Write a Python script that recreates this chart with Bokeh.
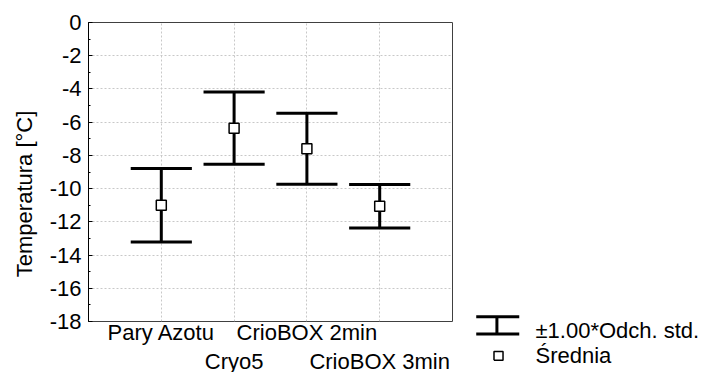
import math
from bokeh.plotting import figure
from bokeh.models import (Range1d, LinearAxis, SingleIntervalTicker, FixedTicker,
                          ColumnDataSource, Grid)
from bokeh.core.properties import value
from bokeh.embed import file_html
from bokeh.resources import INLINE

# ---- data ----
categories = ["Pary Azotu", "Cryo5", "CrioBOX 2min", "CrioBOX 3min"]
means = [-11.0, -6.36, -7.6, -11.06]
sds = [2.21, 2.18, 2.14, 1.31]
label_rows = [0, 1, 0, 1]
y_ticks = [-18, -16, -14, -12, -10, -8, -6, -4, -2, 0]
legend_labels = ["\u00b11.00*Odch. std.", "\u015arednia"]
y_title = "Temperatura [\u00b0C]"

FONT = "Liberation Sans"
FS = "22px"

xs = [i + 1 for i in range(len(categories))]
upper = [m + s for m, s in zip(means, sds)]
lower = [m - s for m, s in zip(means, sds)]
cap = 0.42

src = ColumnDataSource(dict(
    x=xs, mean=means, up=upper, lo=lower,
    x0=[x - cap for x in xs], x1=[x + cap for x in xs],
))

p = figure(width=701, height=372, output_backend="svg", toolbar_location=None,
           x_range=Range1d(0, 5), y_range=Range1d(-18, 0),
           min_border_left=88, min_border_right=249, min_border_top=22,
           min_border_bottom=51, x_axis_type=None, y_axis_type=None)
p.background_fill_color = "white"
p.border_fill_color = "white"
p.outline_line_color = "#404040"
p.outline_line_width = 1

# axes
yticker = SingleIntervalTicker(interval=2, num_minor_ticks=2)
xticker = FixedTicker(ticks=xs)

left = LinearAxis(ticker=yticker)
left.major_label_overrides = {t: str(t) for t in y_ticks}
left.major_label_text_font = FONT
left.major_label_text_font_size = FS
left.major_label_text_color = "black"
left.major_label_standoff = 7
left.major_tick_in = 4
left.major_tick_out = 0
left.minor_tick_in = 2
left.minor_tick_out = 0
left.axis_line_color = "black"
left.major_tick_line_color = "black"
left.minor_tick_line_color = "black"
p.add_layout(left, "left")

# grids
gx = Grid(dimension=0, ticker=xticker, grid_line_color="#c8c8c8",
          grid_line_dash="2 2", grid_line_width=1)
gy = Grid(dimension=1, ticker=yticker, grid_line_color="#c8c8c8",
          grid_line_dash="2 2", grid_line_width=1)
p.add_layout(gx)
p.add_layout(gy)

# error bars
p.segment(x0="x", y0="lo", x1="x", y1="up", source=src, line_color="black", line_width=3)
p.segment(x0="x0", y0="up", x1="x1", y1="up", source=src, line_color="black", line_width=3)
p.segment(x0="x0", y0="lo", x1="x1", y1="lo", source=src, line_color="black", line_width=3)
p.scatter(x="x", y="mean", source=src, marker="square", size=10,
          fill_color="white", line_color="black", line_width=1.5)

# category labels (staggered), drawn outside the frame
lab_src = ColumnDataSource(dict(
    x=xs, y=[-18] * len(xs), text=categories,
    yo=[11 + 29 * r for r in label_rows],
))
p.text(x="x", y="y", text="text", y_offset="yo", source=lab_src,
       text_font=value(FONT), text_font_size=value(FS), text_color="black",
       text_align="center", text_baseline="alphabetic", level="overlay")

# y title
p.text(x=[0], y=[-10.32], text=[y_title], x_offset=-64, angle=math.pi / 2,
       text_font=value(FONT), text_font_size=value(FS), text_color="black",
       text_align="center", text_baseline="middle", level="overlay")

# legend (drawn outside the frame)
lx0, lx1, lxm = 5.326, 5.917, 5.61
ly_top, ly_bot = -17.71, -18.755
leg_src = ColumnDataSource(dict(x0=[lx0, lx0, lxm], x1=[lx1, lx1, lxm],
                                y0=[ly_top, ly_bot, ly_top], y1=[ly_top, ly_bot, ly_bot]))
p.segment(x0="x0", y0="y0", x1="x1", y1="y1", source=leg_src,
          line_color="black", line_width=3, level="overlay")
sqx, sqy, hx, hy = 5.632, -20.07, 0.062, 0.27
p.line(x=[sqx - hx, sqx + hx, sqx + hx, sqx - hx, sqx - hx],
       y=[sqy - hy, sqy - hy, sqy + hy, sqy + hy, sqy - hy],
       line_color="black", line_width=1.5, level="overlay")
leg_txt = ColumnDataSource(dict(x=[5, 5], y=[-18, -18], text=legend_labels, yo=[9, 34]))
p.text(x="x", y="y", text="text", y_offset="yo", x_offset=83, source=leg_txt,
       text_font=value(FONT), text_font_size=value(FS), text_color="black",
       text_align="left", text_baseline="alphabetic", level="overlay")

open("out.html", "w").write(file_html(p, INLINE))
